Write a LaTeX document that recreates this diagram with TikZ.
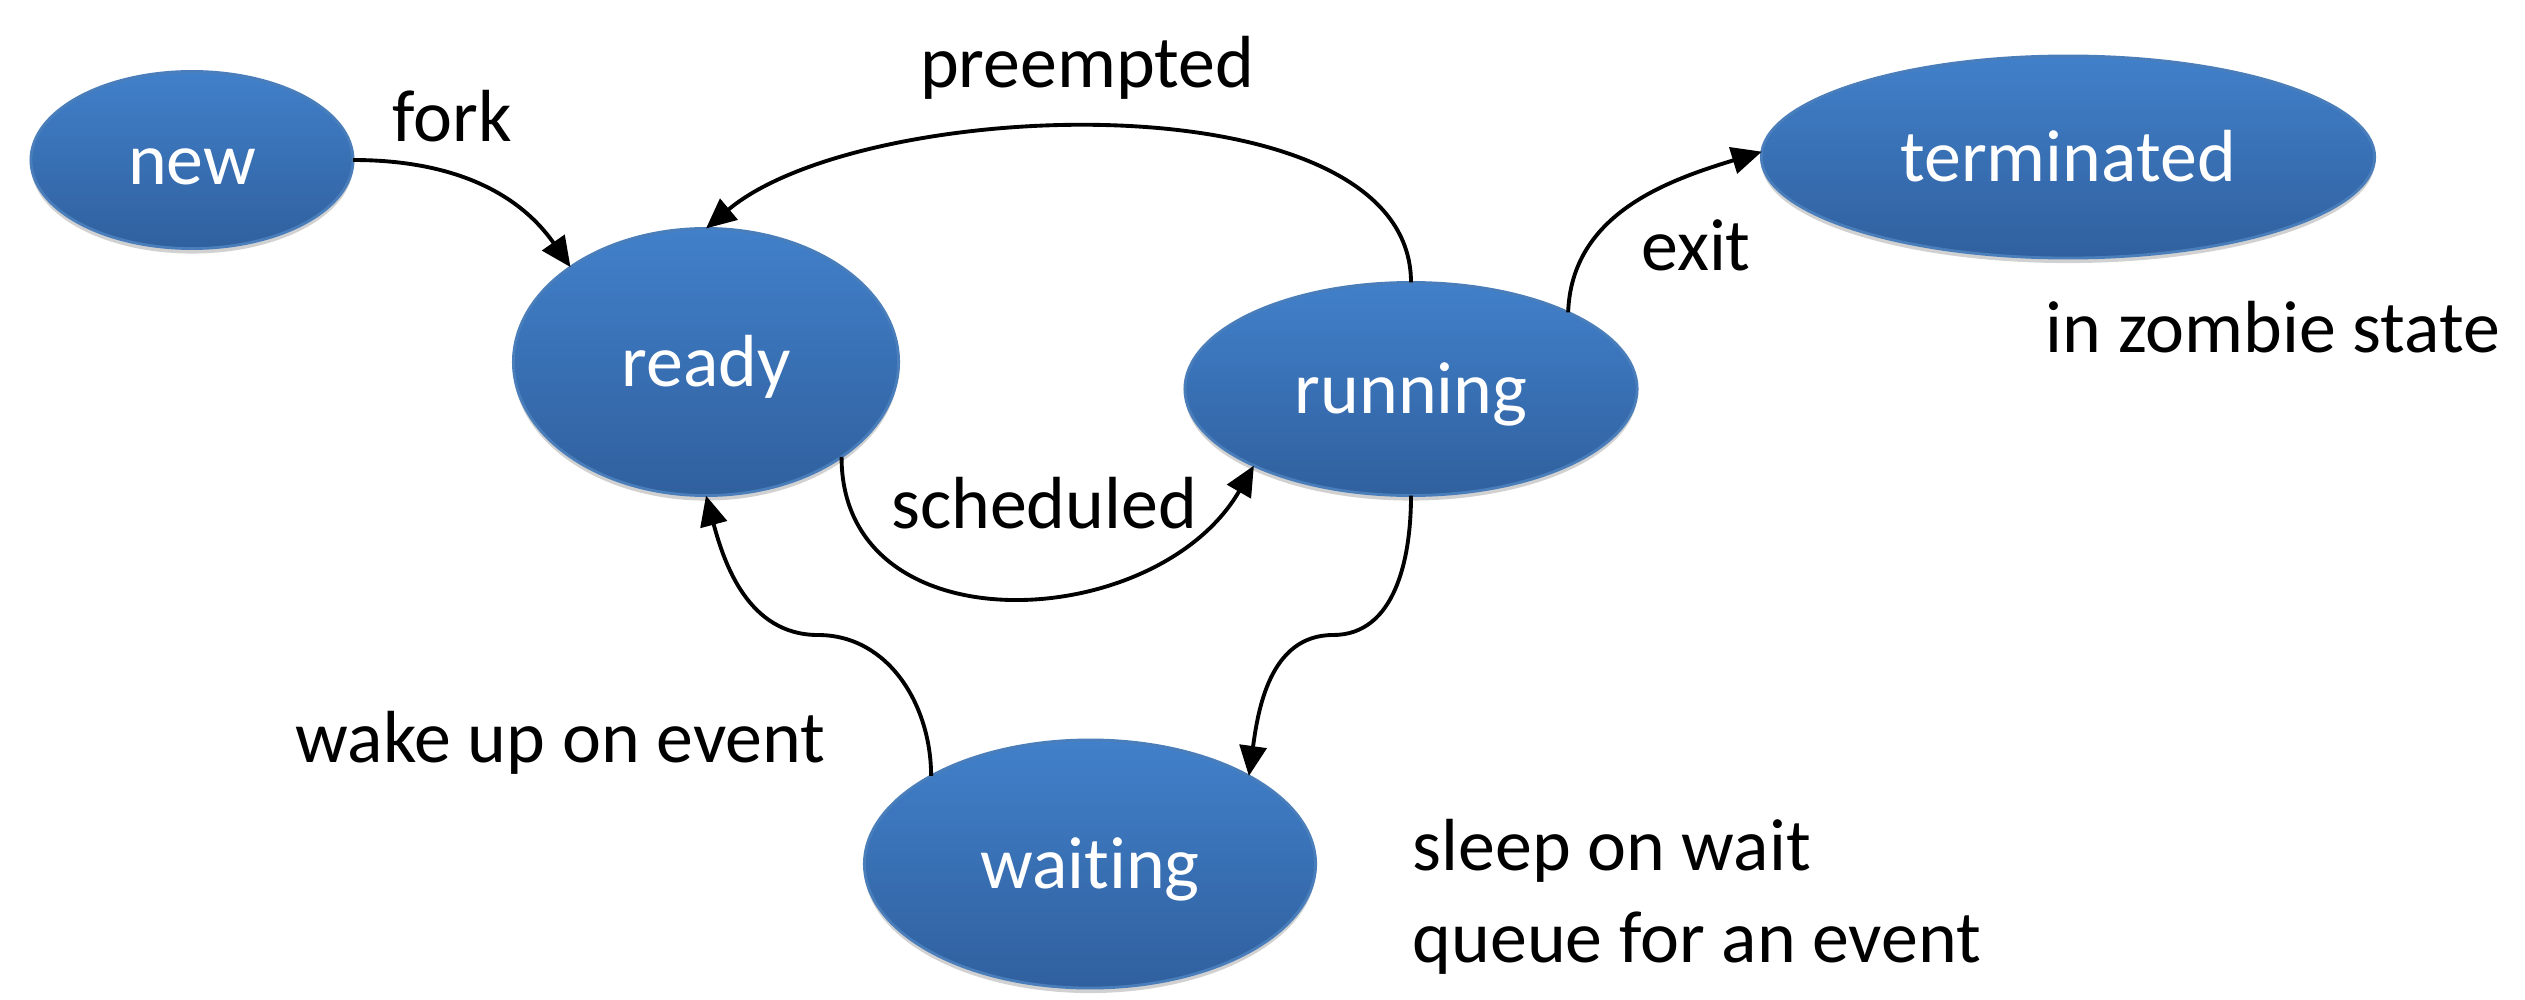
\documentclass[tikz,border=0pt]{standalone}
\usepackage{fontspec}
\setmainfont{Carlito}[Ligatures={NoCommon}]
\usetikzlibrary{shapes.geometric,arrows.meta,shadows}
\definecolor{topblue}{HTML}{4180CA}
\definecolor{botblue}{HTML}{30609E}
\definecolor{rimblue}{HTML}{4A7EBB}
\begin{document}
\begin{tikzpicture}[x=0.01cm,y=0.01cm,
  state/.style={ellipse, inner sep=0pt, outer sep=0pt, text=white,
    top color=topblue, bottom color=botblue, draw=rimblue, line width=0.8pt,
    font=\fontsize{21}{25}\selectfont, text height=0.62cm, text depth=0.14cm,
    drop shadow={shadow xshift=0pt, shadow yshift=-0.05cm, opacity=0.18, fill=black}},
  lbl/.style={font=\fontsize{21}{25}\selectfont, inner sep=0pt, text=black},
  arr/.style={-{Triangle[length=0.3cm,width=0.27cm]}, line width=1.1pt, black}]
\useasboundingbox (0,0) rectangle (2525,999);

\node[state, minimum width=3.22cm, minimum height=1.77cm] (new) at (192,839) {new};
\node[state, minimum width=3.85cm, minimum height=2.67cm] (ready) at (706,637) {ready};
\node[state, minimum width=4.52cm, minimum height=2.13cm] (running) at (1411,610) {running};
\node[state, minimum width=6.13cm, minimum height=2.02cm] (terminated) at (2068,842) {terminated};
\node[state, minimum width=4.51cm, minimum height=2.48cm] (waiting) at (1090,135) {waiting};

\node[lbl, anchor=base] (lfork) at (452,857) {fork};
\node[lbl, anchor=base] (lpre) at (1087,911) {preempted};
\node[lbl, anchor=base] (lexit) at (1696,729) {exit};
\node[lbl, anchor=base] (lzombie) at (2273,647) {in zombie state};
\node[lbl, anchor=base] (lsched) at (1044,471) {scheduled};
\node[lbl, anchor=base east] (lwake) at (826,237) {wake up on event};
\node[lbl, anchor=base west] (lsleep1) at (1412,129) {sleep on wait};
\node[lbl, anchor=base west] (lsleep2) at (1412,37) {queue for an event};

\coordinate (wk) at (818,364);
\coordinate (sl) at (1333,364);

\draw[arr] (new.east) to[out=0,in=125] (ready.145);
\draw[arr] (running.north) to[out=90,in=40,looseness=0.75] (ready.north);
\draw[arr] (running.26) to[out=88,in=197] (terminated.179);
\draw[arr] (ready.-35) to[out=-90,in=240,looseness=1.2] (running.206);
\draw[arr] (waiting.151) to[out=90,in=0] (wk) to[out=180,in=285] (ready.south);
\draw[arr] (running.south) to[out=-90,in=0] (sl) to[out=180,in=82] (waiting.29);
\end{tikzpicture}
\end{document}
